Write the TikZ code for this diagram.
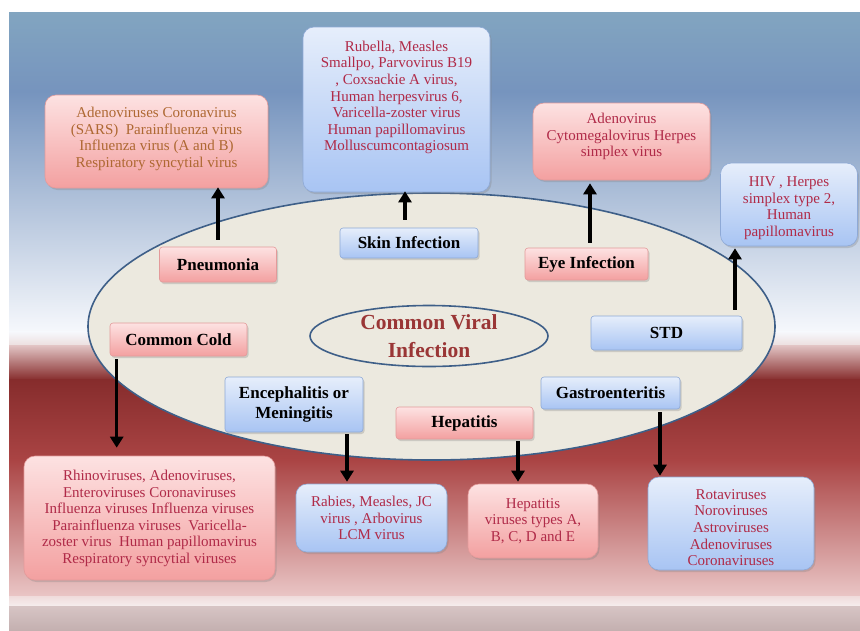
\documentclass[tikz,border=0pt]{standalone}
\usepackage{fontspec}
\setmainfont{Liberation Serif}
\usetikzlibrary{arrows.meta,shadows,calc,shapes.geometric}
\definecolor{listred}{HTML}{B02A48}
\definecolor{listbrown}{HTML}{AE6832}
\definecolor{pinktop}{HTML}{FDE2E2}
\definecolor{pinkbot}{HTML}{F3A0A0}
\definecolor{pinkline}{HTML}{E39A9A}
\definecolor{bluetop}{HTML}{E6EEFB}
\definecolor{bluebot}{HTML}{A8C4F3}
\definecolor{blueline}{HTML}{8EA9D6}
\definecolor{ellfill}{HTML}{ECE9DF}
\definecolor{ellline}{HTML}{3E5F88}
\definecolor{titlered}{HTML}{9A3636}
\tikzset{
  boxbase/.style={align=center, inner sep=0pt,
    drop shadow={opacity=0.3, shadow xshift=1.5pt, shadow yshift=-2pt}},
  pinkbox/.style={boxbase, rounded corners=11pt, draw=pinkline, line width=0.6pt, top color=pinktop, bottom color=pinkbot},
  bluebox/.style={boxbase, rounded corners=11pt, draw=blueline, line width=0.6pt, top color=bluetop, bottom color=bluebot},
  pinkcat/.style={pinkbox, rounded corners=3pt},
  bluecat/.style={bluebox, rounded corners=3pt},
  listtext/.style={align=center, inner sep=0pt, font=\fontsize{15}{16.6}\selectfont, text=listred},
  cattext/.style={font=\bfseries\fontsize{17}{19.5}\selectfont, text=black},
  arr/.style={line width=3.4pt, -{Triangle[width=13pt,length=11pt]}},
}
\begin{document}
\begin{tikzpicture}[x=1pt,y=-1pt]
\useasboundingbox (0,0) rectangle (860,630);
% background
\fill[white] (0,0) rectangle (860,630);
\shade[top color={rgb,255:red,130;green,165;blue,192}, bottom color={rgb,255:red,118;green,148;blue,190}] (9,12) rectangle (860,92);
\shade[top color={rgb,255:red,118;green,148;blue,190}, bottom color={rgb,255:red,246;green,248;blue,252}] (9,91.5) rectangle (860,332);
\shade[top color={rgb,255:red,246;green,248;blue,252}, bottom color={rgb,255:red,236;green,222;blue,222}] (9,331.5) rectangle (860,346);
\shade[top color={rgb,255:red,225;green,195;blue,195}, bottom color={rgb,255:red,134;green,44;blue,44}] (9,345.5) rectangle (860,380);
\shade[top color={rgb,255:red,134;green,44;blue,44}, bottom color={rgb,255:red,170;green,68;blue,68}] (9,379.5) rectangle (860,460);
\shade[top color={rgb,255:red,170;green,68;blue,68}, bottom color={rgb,255:red,234;green,198;blue,198}] (9,459.5) rectangle (860,597);
\shade[top color={rgb,255:red,240;green,220;blue,220}, bottom color={rgb,255:red,246;green,240;blue,240}] (9,596.5) rectangle (860,607);
\shade[top color={rgb,255:red,214;green,196;blue,196}, bottom color={rgb,255:red,196;green,176;blue,176}] (9,606.5) rectangle (860,630);
% ellipses
\node[ellipse, draw=ellline, line width=1.6pt, fill=ellfill, minimum width=687pt, minimum height=267pt, inner sep=0pt] (outer) at (431.5,326.5) {};
\node[ellipse, draw=ellline, line width=1.6pt, fill=ellfill, minimum width=238pt, minimum height=58pt, inner sep=0pt, align=center, text=titlered, font=\bfseries\fontsize{21.5}{28}\selectfont] (title) at (429,336) {Common Viral\\Infection};
% categories
\node[pinkcat, cattext, minimum width=117pt, minimum height=35pt] (pneu) at (218,264.5) {Pneumonia};
\node[bluecat, cattext, minimum width=138pt, minimum height=30pt] (skin) at (409,243) {Skin Infection};
\node[pinkcat, cattext, minimum width=123pt, minimum height=32pt] (eye) at (586.5,264) {Eye Infection};
\node[bluecat, cattext, minimum width=151pt, minimum height=34pt] (std) at (666.5,333) {STD};
\node[pinkcat, cattext, minimum width=137pt, minimum height=33pt] (cold) at (178.5,339.5) {Common Cold};
\node[bluecat, cattext, minimum width=138pt, minimum height=55pt] (enc) at (294,404.5) {Encephalitis or\\Meningitis};
\node[pinkcat, cattext, minimum width=137pt, minimum height=32pt] (hep) at (464.5,423) {Hepatitis};
\node[bluecat, cattext, minimum width=139pt, minimum height=32pt] (gas) at (610.5,393) {Gastroenteritis};
% list boxes
\node[pinkbox, minimum width=223pt, minimum height=93pt] (pneulist) at (156.5,141.5) {};
\node[bluebox, minimum width=187pt, minimum height=165pt] (skinlist) at (396.5,109.5) {};
\node[pinkbox, minimum width=177pt, minimum height=77pt] (eyelist) at (621.5,141.5) {};
\node[bluebox, minimum width=137pt, minimum height=83pt] (stdlist) at (789,204.5) {};
\node[pinkbox, minimum width=251pt, minimum height=124pt] (coldlist) at (149.5,518) {};
\node[bluebox, minimum width=151pt, minimum height=68pt] (enclist) at (371.5,518) {};
\node[pinkbox, minimum width=130pt, minimum height=74pt] (heplist) at (533,521) {};
\node[bluebox, minimum width=166pt, minimum height=93pt] (gaslist) at (731,523.5) {};
% list texts
\node[listtext, text=listbrown] (pneutext) at ($(pneulist.center)+(0,-2.5)$)
  {Adenoviruses Coronavirus\\(SARS)\ \ Parainfluenza virus\\Influenza virus (A and B)\\Respiratory syncytial virus};
\node[listtext] (skintext) at ($(skinlist.center)+(0,-12)$)
  {Rubella, Measles\\Smallpo, Parvovirus B19\\, Coxsackie A virus,\\Human herpesvirus 6,\\Varicella-zoster virus\\Human papillomavirus\\Molluscumcontagiosum};
\node[listtext] (eyetext) at ($(eyelist.center)+(0,-5)$)
  {Adenovirus\\Cytomegalovirus Herpes\\simplex virus};
\node[listtext] (stdtext) at ($(stdlist.center)+(0,3.5)$)
  {HIV , Herpes\\simplex type 2,\\Human\\papillomavirus};
\node[listtext] (coldtext) at ($(coldlist.center)+(0,0.5)$)
  {Rhinoviruses, Adenoviruses,\\Enteroviruses Coronaviruses\\Influenza viruses Influenza viruses\\Parainfluenza viruses\ \ Varicella-\\zoster virus\ \ Human papillomavirus\\Respiratory syncytial viruses};
\node[listtext] (enctext) at (enclist.center)
  {Rabies, Measles, JC\\virus , Arbovirus\\LCM virus};
\node[listtext] (heptext) at (heplist.center)
  {Hepatitis\\viruses types A,\\B, C, D and E};
\node[listtext] (gastext) at ($(gaslist.center)+(0,4)$)
  {Rotaviruses\\Noroviruses\\Astroviruses\\Adenoviruses\\Coronaviruses};
% arrows
\draw[arr] ($(pneu.north)+(0,-7)$) -- ($(pneu.north |- pneulist.south)+(0,-1)$);
\draw[arr] ($(skin.north)+(-4,-8)$) -- ($(skin.north |- skinlist.south)+(-4,-1)$);
\draw[arr] ($(eye.north)+(3.5,-5)$) -- ($(eye.north |- eyelist.south)+(3.5,3)$);
\draw[arr] ($(std.north)+(68.5,-6)$) -- ($(std.north |- stdlist.south)+(68.5,2)$);
\draw[arr] ($(cold.south west)+(7,3)$) -- ($(cold.south west |- coldlist.north)+(7,-8)$);
\draw[arr] ($(enc.south)+(53,2)$) -- ($(enc.south |- enclist.north)+(53,-2)$);
\draw[arr] ($(hep.south)+(53.5,2)$) -- ($(hep.south |- heplist.north)+(53.5,-2)$);
\draw[arr] ($(gas.south)+(49.5,3)$) -- ($(gas.south |- gaslist.north)+(49.5,-1)$);
\end{tikzpicture}
\end{document}
